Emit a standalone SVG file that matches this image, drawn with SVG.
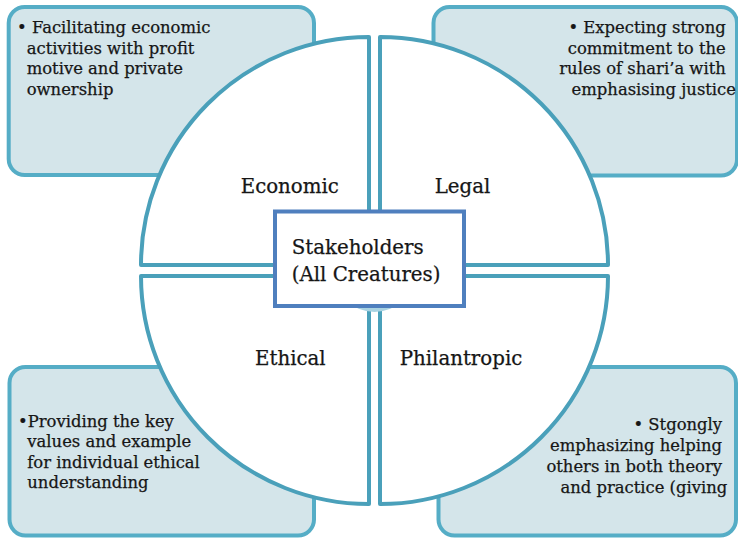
<svg xmlns="http://www.w3.org/2000/svg" width="738" height="540" viewBox="0 0 738 540">
  <style>
    .box { fill: #d4e5ea; stroke: #55adc6; stroke-width: 4; }
    .quad { fill: #ffffff; stroke: #4aa0ba; stroke-width: 4; stroke-linejoin: round; }
    .core { fill: #ffffff; stroke: #4f7fbe; stroke-width: 4; }
    .hub { fill: #a9d3e2; }
    text { font-family: "DejaVu Serif", "Liberation Serif", serif; fill: #161616; stroke: #161616; stroke-width: 0.25; }
    .note { font-size: 16.4px; }
    .label { font-size: 19.8px; }
    .end { text-anchor: end; }
  </style>

  <!-- corner description boxes (behind the wheel) -->
  <g id="box-economic">
    <rect class="box" x="8.7" y="7" width="305.3" height="168" rx="16"/>
    <text class="note">
      <tspan x="17" y="33.3">• Facilitating economic</tspan>
      <tspan x="26.7" y="53.8">activities with profit</tspan>
      <tspan x="26.7" y="74.3">motive and private</tspan>
      <tspan x="26.7" y="94.8">ownership</tspan>
    </text>
  </g>
  <g id="box-legal">
    <rect class="box" x="433.5" y="7" width="303.5" height="168.5" rx="16"/>
    <text class="note end">
      <tspan x="731" y="33.3">• Expecting strong</tspan>
      <tspan x="731" y="53.8">commitment to the</tspan>
      <tspan x="731" y="74.3">rules of shari’a with</tspan>
      <tspan x="736" y="94.8">emphasising justice</tspan>
    </text>
  </g>
  <g id="box-ethical">
    <rect class="box" x="9.5" y="367" width="304.5" height="168.5" rx="16"/>
    <text class="note">
      <tspan x="18" y="426.7">•Providing the key</tspan>
      <tspan x="27.3" y="447.2">values and example</tspan>
      <tspan x="27.3" y="467.7">for individual ethical</tspan>
      <tspan x="27.3" y="488.2">understanding</tspan>
    </text>
  </g>
  <g id="box-philantropic">
    <rect class="box" x="438.5" y="367" width="297.5" height="168.5" rx="16"/>
    <text class="note end">
      <tspan x="727.3" y="430.3">• Stgongly</tspan>
      <tspan x="727.3" y="451.1">emphasizing helping</tspan>
      <tspan x="727.3" y="471.9">others in both theory</tspan>
      <tspan x="727.3" y="492.7">and practice (giving</tspan>
    </text>
  </g>

  <!-- the four quarter segments of the wheel -->
  <g id="quad-economic">
    <path class="quad" d="M369,265 L141,265 A228,228 0 0 1 369,37 Z"/>
    <text class="label" x="240.7" y="193.3">Economic</text>
  </g>
  <g id="quad-legal">
    <path class="quad" d="M380,265 L380,37 A228,228 0 0 1 608,265 Z"/>
    <text class="label" x="434.7" y="193.3">Legal</text>
  </g>
  <g id="quad-ethical">
    <path class="quad" d="M369,276 L369,504 A228,228 0 0 1 141,276 Z"/>
    <text class="label" x="255" y="365">Ethical</text>
  </g>
  <g id="quad-philantropic">
    <path class="quad" d="M380,276 L608,276 A228,228 0 0 1 380,504 Z"/>
    <text class="label" x="399.7" y="365">Philantropic</text>
  </g>

  <!-- hub and central stakeholder box -->
  <g id="stakeholders">
    <circle class="hub" cx="374.5" cy="270.5" r="41.5"/>
    <rect class="core" x="275" y="211.5" width="189" height="94.5"/>
    <text class="label" font-size="19.6">
      <tspan x="291.7" y="254">Stakeholders</tspan>
      <tspan x="291.7" y="280.7">(All Creatures)</tspan>
    </text>
  </g>

  <g id="connectors"/>
</svg>
